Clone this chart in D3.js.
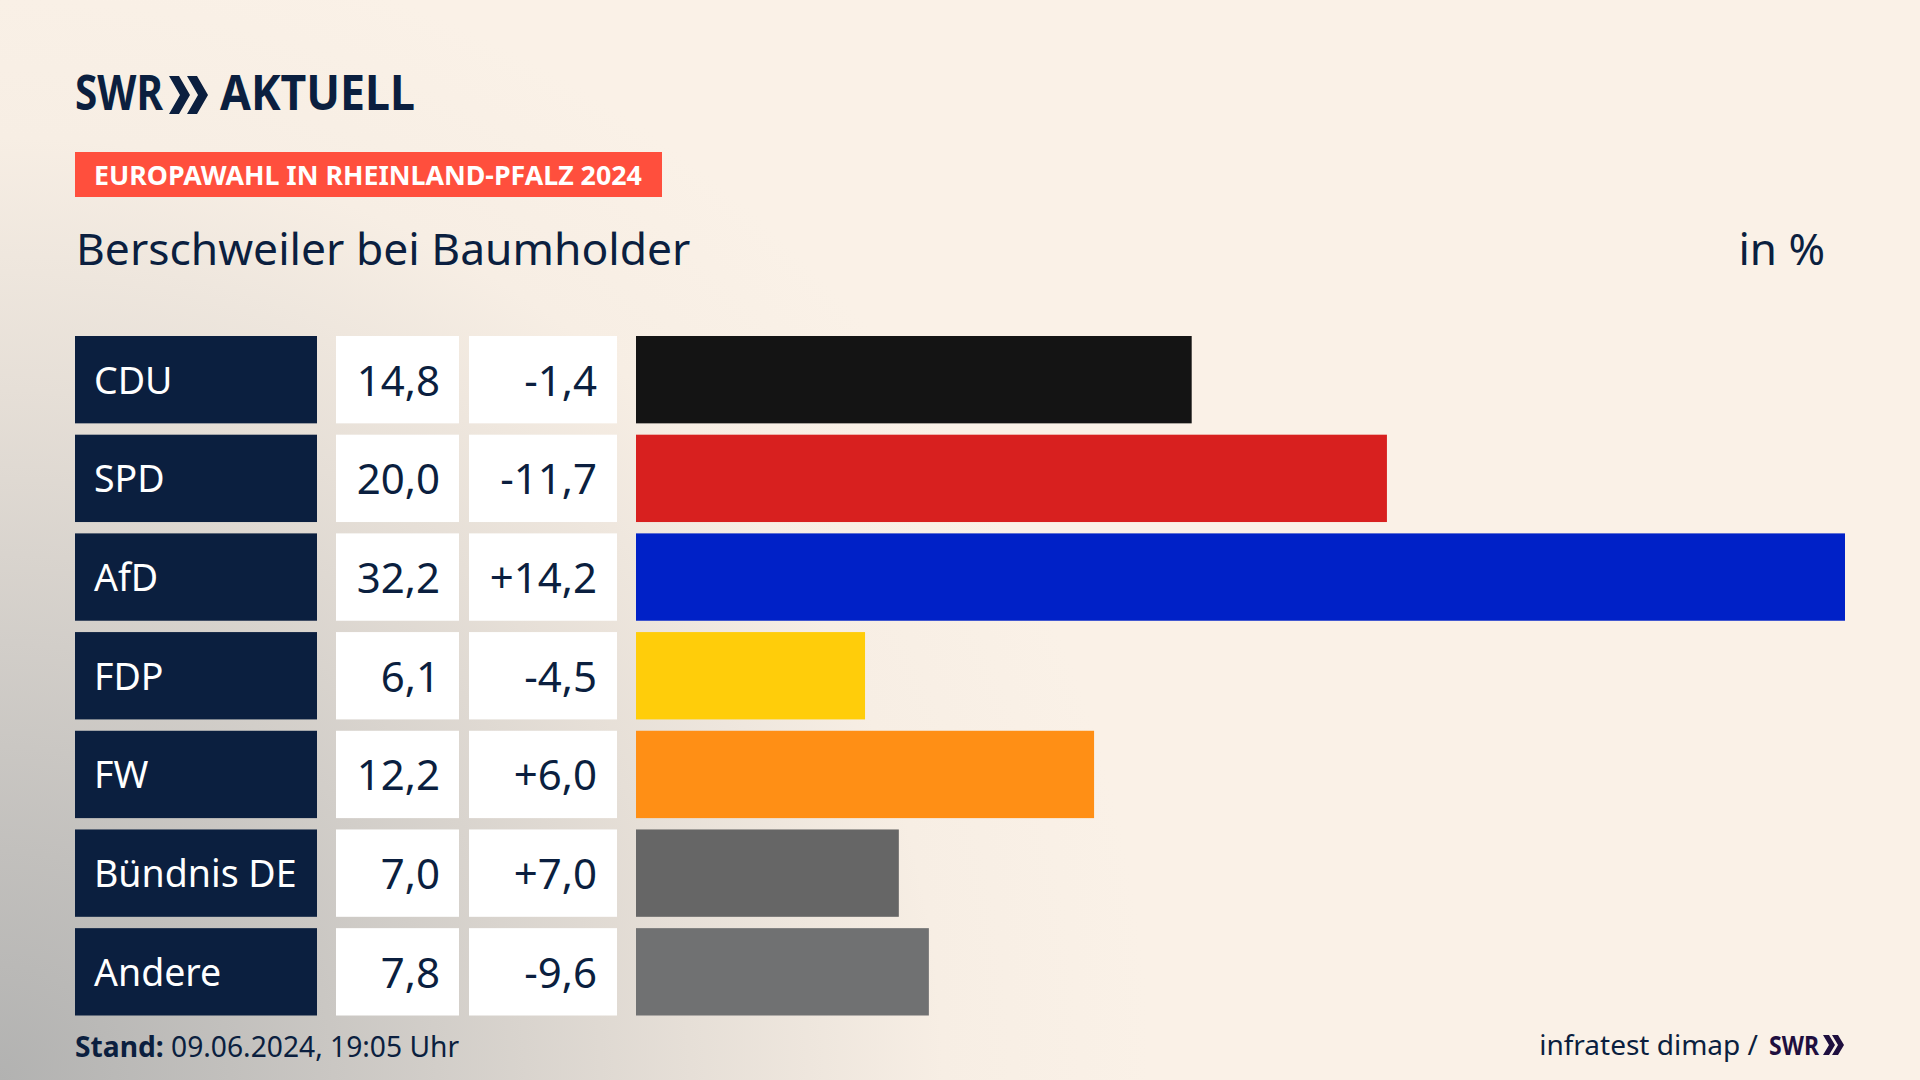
<!DOCTYPE html>
<html lang="de">
<head>
<meta charset="utf-8">
<title>Europawahl</title>
<script src="https://cdn.jsdelivr.net/npm/d3@7/dist/d3.min.js"></script>
<style>
html,body{margin:0;padding:0;background:#faf1e7;overflow:hidden}
svg{display:block}
text{font-family:"Noto Sans",sans-serif}
</style>
</head>
<body>
<svg id="c" width="1920" height="1080"></svg>
<script>
const parties = ["CDU","SPD","AfD","FDP","FW","Bündnis DE","Andere"];
const shares = [14.8,20.0,32.2,6.1,12.2,7.0,7.8];
const changes = [-1.4,-11.7,14.2,-4.5,6.0,7.0,-9.6];
const colours = ["#141414","#d8201f","#0021c7","#ffcd0a","#ff8f15","#666666","#707172"];
const titleText = "Berschweiler bei Baumholder";
const tagText = "EUROPAWAHL IN RHEINLAND-PFALZ 2024";
const unitText = "in %";
const standLabel = "Stand:";
const standText = "09.06.2024, 19:05 Uhr";
const sourceText = "infratest dimap /";

const navy = "#0b1f3f";
const svg = d3.select("#c");
const defs = svg.append("defs");

const g1 = defs.append("radialGradient").attr("id","bg1").attr("gradientUnits","userSpaceOnUse")
  .attr("cx",0).attr("cy",1080).attr("r",1150);
[[0,"#b2b2b1"],[0.2,"#c2c0bd"],[0.38,"#d2cec9"],[0.6,"#e6dfd7"],[0.82,"#f7eee4"],[1,"#faf1e7"]]
  .forEach(s=>g1.append("stop").attr("offset",s[0]).attr("stop-color",s[1]));

svg.append("rect").attr("width",1920).attr("height",1080).attr("fill","url(#bg1)");

const fmt = v => v.toFixed(1).replace(".",",");
const fmtD = v => (v>0?"+":"") + fmt(v);

const y = d3.scaleBand().domain(parties).range([336,1015.5]).paddingInner(0.115).paddingOuter(0);
const x = d3.scaleLinear().domain([0,d3.max(shares)]).range([0,1209]);

const rows = svg.selectAll("g.row").data(parties).join("g").attr("class","row")
  .attr("transform",d=>`translate(0,${y(d)})`);
const h = y.bandwidth();

rows.append("rect").attr("x",75).attr("width",242).attr("height",h).attr("fill",navy);
rows.append("rect").attr("x",336).attr("width",123).attr("height",h).attr("fill","#fff");
rows.append("rect").attr("x",469).attr("width",148).attr("height",h).attr("fill","#fff");
rows.append("rect").attr("x",636).attr("height",h).attr("width",(d,i)=>x(shares[i])).attr("fill",(d,i)=>colours[i]);

rows.append("text").attr("x",94).attr("y",h/2+14).attr("font-size",37.5).attr("fill","#fff").text(d=>d);
rows.append("text").attr("x",440).attr("y",h/2+16).attr("font-size",42).attr("text-anchor","end").attr("fill",navy).text((d,i)=>fmt(shares[i]));
rows.append("text").attr("x",597).attr("y",h/2+16).attr("font-size",42).attr("text-anchor","end").attr("fill",navy).text((d,i)=>fmtD(changes[i]));

// header
const chev = (x0,y0,w,t,off,ht,fill)=>{
  const p = d3.path();
  [0,1].forEach(k=>{
    const o = x0 + k*off;
    p.moveTo(o,y0); p.lineTo(o+t,y0); p.lineTo(o+w,y0+ht/2);
    p.lineTo(o+t,y0+ht); p.lineTo(o,y0+ht); p.lineTo(o+w-t,y0+ht/2); p.closePath();
  });
  svg.append("path").attr("d",p.toString()).attr("fill",fill);
};
svg.append("text").attr("x",75).attr("y",110).attr("font-size",48).attr("font-weight",700).attr("fill",navy)
  .attr("textLength",88).attr("lengthAdjust","spacingAndGlyphs").text("SWR");
chev(169,76,21,10,18,38,navy);
svg.append("text").attr("x",220).attr("y",110).attr("font-size",48).attr("font-weight",700).attr("fill",navy)
  .attr("textLength",195).attr("lengthAdjust","spacingAndGlyphs").text("AKTUELL");

svg.append("rect").attr("x",75).attr("y",152).attr("width",587).attr("height",45).attr("fill","#ff4f3d");
svg.append("text").attr("x",94).attr("y",185).attr("font-size",26.75).attr("font-weight",700).attr("fill","#fff").text(tagText);
svg.append("text").attr("x",76).attr("y",265).attr("font-size",44.4).attr("fill",navy).text(titleText);
svg.append("text").attr("x",1825).attr("y",265).attr("font-size",44).attr("text-anchor","end").attr("fill",navy).text(unitText);

// footer
const st = svg.append("text").attr("x",75).attr("y",1057).attr("font-size",28.2).attr("fill",navy);
st.append("tspan").attr("font-weight",700).text(standLabel);
st.append("tspan").text(" "+standText);
svg.append("text").attr("x",1758).attr("y",1055).attr("font-size",28).attr("text-anchor","end").attr("fill",navy).text(sourceText);
svg.append("text").attr("x",1769).attr("y",1055).attr("font-size",27).attr("font-weight",700).attr("fill","#1f0f3f")
  .attr("textLength",50).attr("lengthAdjust","spacingAndGlyphs").text("SWR");
chev(1823,1035,12,6,9,20,"#1f0f3f");
</script>
</body>
</html>
